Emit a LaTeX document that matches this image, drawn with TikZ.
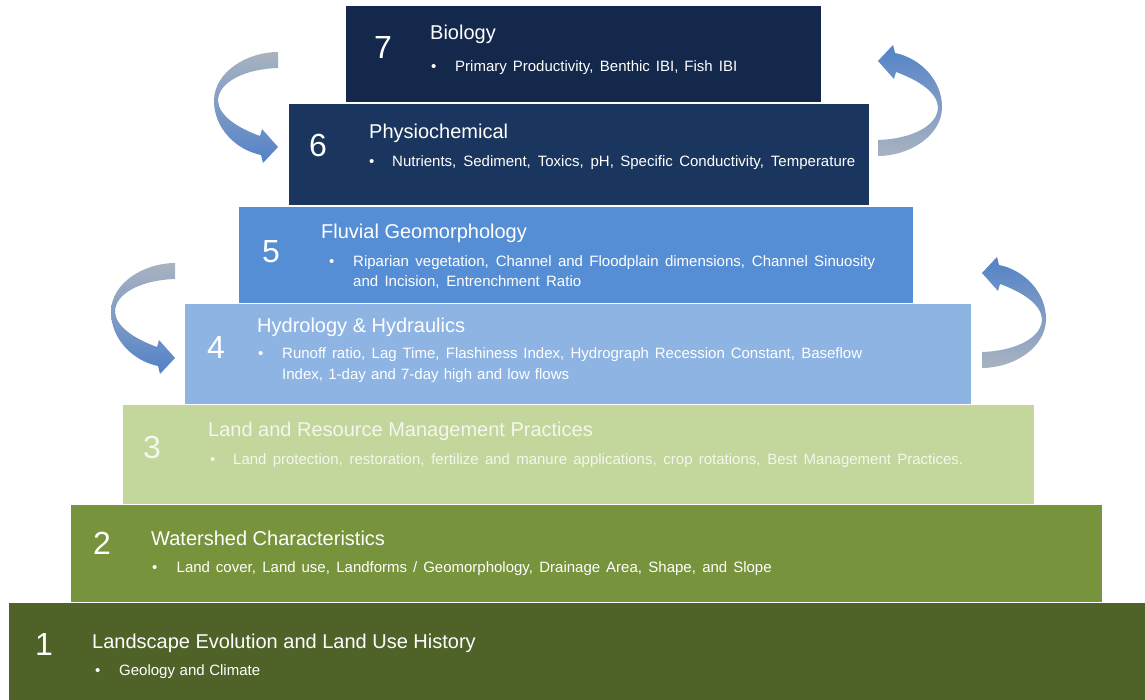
\documentclass[tikz,border=0pt]{standalone}
\usepackage{fontspec}
\setmainfont{Liberation Sans}
\definecolor{lvA}{HTML}{4F6228}
\definecolor{lvB}{HTML}{77933C}
\definecolor{lvC}{HTML}{C3D69B}
\definecolor{lvD}{HTML}{8EB4E3}
\definecolor{lvE}{HTML}{558ED5}
\definecolor{lvF}{HTML}{1B365E}
\definecolor{lvG}{HTML}{13284A}
\definecolor{swirlgray}{HTML}{A9B3C0}
\definecolor{swirlblue}{HTML}{5282C8}
\definecolor{paletext}{HTML}{F4F7EE}

% curved ribbon arrow; #1,#2 offset, #3 orientation (1 or -1), #4 top colour, #5 bottom colour
\newcommand\swirlarrow[5]{%
  \shade[top color=#4, bottom color=#5]
    ({#1+(#3)*278},{#2+(#3)*52})
      .. controls ({#1+(#3)*247},{#2+(#3)*52}) and ({#1+(#3)*214},{#2+(#3)*72}) .. ({#1+(#3)*214},{#2+(#3)*101})
      .. controls ({#1+(#3)*214},{#2+(#3)*128}) and ({#1+(#3)*236},{#2+(#3)*150}) .. ({#1+(#3)*261},{#2+(#3)*155})
      -- ({#1+(#3)*263},{#2+(#3)*163})
      -- ({#1+(#3)*278},{#2+(#3)*147})
      -- ({#1+(#3)*262},{#2+(#3)*129})
      -- ({#1+(#3)*260},{#2+(#3)*136})
      .. controls ({#1+(#3)*238},{#2+(#3)*128}) and ({#1+(#3)*219},{#2+(#3)*116}) .. ({#1+(#3)*218},{#2+(#3)*101})
      .. controls ({#1+(#3)*218},{#2+(#3)*82}) and ({#1+(#3)*245},{#2+(#3)*69}) .. ({#1+(#3)*278},{#2+(#3)*68})
      -- cycle;}

\begin{document}
\begin{tikzpicture}[x=1pt,y=-1pt,
  tier/.style={rectangle, inner sep=0pt, outer sep=0pt, anchor=north west},
  lvnum/.style={inner sep=0pt, anchor=base, text=white, font=\fontsize{32}{36}\selectfont},
  lvtitle/.style={inner sep=0pt, anchor=base west, text=white, font=\fontsize{20}{24}\selectfont},
  lvitem/.style={inner sep=0pt, anchor=base west, text=white, font=\fontsize{15}{18}\selectfont},
  lvdot/.style={inner sep=0pt, anchor=base west, text=white, font=\fontsize{15}{18}\selectfont}]
\useasboundingbox (0,0) rectangle (1145,700);

% stacked tiers, bottom (1) to top (7)
\node[tier, fill=lvA, minimum width=1136, minimum height=97] (b1) at (9,603) {};
\node[tier, fill=lvB, minimum width=1031, minimum height=97] (b2) at (71,505) {};
\node[tier, fill=lvC, minimum width=911, minimum height=99] (b3) at (123,405) {};
\node[tier, fill=lvD, minimum width=786, minimum height=100] (b4) at (185,304) {};
\node[tier, fill=lvE, minimum width=674, minimum height=96] (b5) at (239,207) {};
\node[tier, fill=lvF, minimum width=580, minimum height=101] (b6) at (289,104) {};
\node[tier, fill=lvG, minimum width=475, minimum height=96] (b7) at (346,6) {};

% level 7
\node[lvnum] (n7) at (383,58.5) {7};
\node[lvtitle] (t7) at (430,40) {Biology};
\node[lvdot] (d7) at (431,72) {•};
\node[lvitem] (i7) at (455,72) {\makebox[282pt][s]{Primary Productivity, Benthic IBI, Fish IBI}};

% level 6
\node[lvnum] (n6) at (318,156.5) {6};
\node[lvtitle] (t6) at (369,139) {Physiochemical};
\node[lvdot] (d6) at (369,166.5) {•};
\node[lvitem] (i6) at (392,166.5) {\makebox[463pt][s]{Nutrients, Sediment, Toxics, pH, Specific Conductivity, Temperature}};

% level 5
\node[lvnum] (n5) at (271,262.5) {5};
\node[lvtitle] (t5) at (321,239) {Fluvial Geomorphology};
\node[lvdot] (d5) at (329,267) {•};
\node[lvitem] (i5a) at (353,267) {\makebox[522pt][s]{Riparian vegetation, Channel and Floodplain dimensions, Channel Sinuosity}};
\node[lvitem] (i5b) at (353,287) {\makebox[228pt][s]{and Incision, Entrenchment Ratio}};

% level 4
\node[lvnum] (n4) at (216,358.5) {4};
\node[lvtitle] (t4) at (257,332) {Hydrology \& Hydraulics};
\node[lvdot] (d4) at (258,359) {•};
\node[lvitem] (i4a) at (282,359) {\makebox[580pt][s]{Runoff ratio, Lag Time, Flashiness Index, Hydrograph Recession Constant, Baseflow}};
\node[lvitem] (i4b) at (282,379) {\makebox[287pt][s]{Index, 1-day and 7-day high and low flows}};

% level 3
\node[lvnum, text=paletext] (n3) at (152,458.5) {3};
\node[lvtitle, text=paletext] (t3) at (208,436) {Land and Resource Management Practices};
\node[lvdot, text=paletext] (d3) at (210,464) {•};
\node[lvitem, text=paletext] (i3) at (233,464) {\makebox[730pt][s]{Land protection, restoration, fertilize and manure applications, crop rotations, Best Management Practices.}};

% level 2
\node[lvnum] (n2) at (102,554.5) {2};
\node[lvtitle] (t2) at (151,545) {Watershed Characteristics};
\node[lvdot] (d2) at (152,572) {•};
\node[lvitem] (i2) at (176.5,572) {\makebox[595pt][s]{Land cover, Land use, Landforms / Geomorphology, Drainage Area, Shape, and Slope}};

% level 1
\node[lvnum] (n1) at (44,655.5) {1};
\node[lvtitle] (t1) at (92,648) {Landscape Evolution and Land Use History};
\node[lvdot] (d1) at (95,675.5) {•};
\node[lvitem] (i1) at (119,675.5) {\makebox[141pt][s]{Geology and Climate}};

% curved feedback arrows
\swirlarrow{0}{0}{1}{swirlgray}{swirlblue}
\swirlarrow{-103}{211}{1}{swirlgray}{swirlblue}
\swirlarrow{1156}{208}{-1}{swirlblue}{swirlgray}
\swirlarrow{1260}{420}{-1}{swirlblue}{swirlgray}
\end{tikzpicture}
\end{document}
